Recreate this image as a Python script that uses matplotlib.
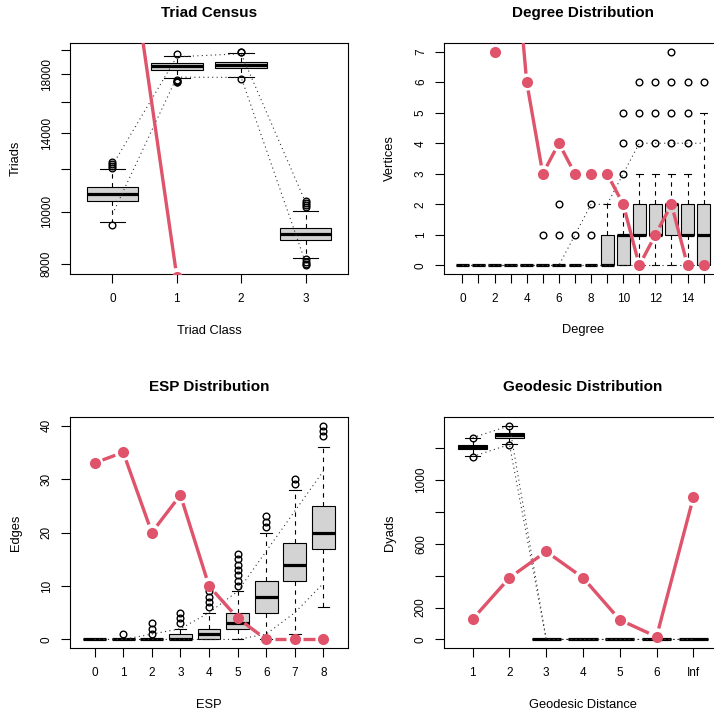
import numpy as np
import matplotlib
matplotlib.use('Agg')
import matplotlib.pyplot as plt
from matplotlib.ticker import NullLocator

plt.rcParams['font.family'] = ['Liberation Sans', 'DejaVu Sans']

W, H = 714, 712
RED = '#DF536B'
FILL = '#D3D3D3'

# ---- Triad census (simulated boxes, bounds, observed) ----
triad_names = ['0', '1', '2', '3']
triad_q1 = [10480, 18330, 18456, 8868]
triad_med = [10800, 18614, 18725, 9113]
triad_q3 = [11100, 18890, 18967, 9346]
triad_lo = [9586, 17690, 17767, 8217]
triad_hi = [12016, 19454, 19700, 10044]
triad_fliers = [[12080, 12180, 12280, 12390, 9466],
                [19670, 17600, 17520, 17450, 17380],
                [19836, 19800, 17670],
                [10200, 10290, 10380, 10470, 8170, 8080, 8000, 7950]]
triad_upper = [12200, 19400, 19650, 10420]
triad_lower = [9900, 17780, 17760, 8050]
triad_obs = [50960, 7580, 1800, 120]

# ---- Degree distribution ----
deg_names = [str(i) for i in range(16)]
deg_q1 = [0, 0, 0, 0, 0, 0, 0, 0, 0, 0, 0, 1, 1, 1, 1, 0]
deg_med = [0, 0, 0, 0, 0, 0, 0, 0, 0, 0, 1, 1, 1, 2, 1, 1]
deg_q3 = [0, 0, 0, 0, 0, 0, 0, 0, 0, 1, 1, 2, 2, 2, 2, 2]
deg_lo = [0] * 16
deg_hi = [0, 0, 0, 0, 0, 0, 0, 0, 0, 2, 2, 3, 3, 3, 3, 5]
deg_fliers = [[], [], [], [], [], [1], [1, 2], [1], [1, 2], [],
              [3, 4, 5], [4, 5, 6], [4, 5, 6], [4, 5, 6, 7], [4, 5, 6], [6]]
deg_upper = [0, 0, 0, 0, 0, 0, 0, 1, 2, 2, 3, 4, 4, 4, 4, 4]
deg_lower = [0] * 16
deg_obs = [13, 12, 7, 12, 6, 3, 4, 3, 3, 3, 2, 0, 1, 2, 0, 0]

# ---- ESP distribution ----
esp_names = [str(i) for i in range(9)]
esp_q1 = [0, 0, 0, 0, 0, 2, 5, 11, 17]
esp_med = [0, 0, 0, 0, 1, 3, 8, 14, 20]
esp_q3 = [0, 0, 0, 1, 2, 5, 11, 18, 25]
esp_lo = [0, 0, 0, 0, 0, 0, 0, 1, 6]
esp_hi = [0, 0, 0, 2, 5, 9, 20, 28, 36]
esp_fliers = [[], [1], [1, 2, 3], [3, 4, 5], [6, 7, 8, 9],
              [10, 11, 12, 13, 14, 15, 16], [21, 22, 23], [29, 30], [38, 39, 40]]
esp_upper = [0, 0, 1, 2, 5, 9, 16.5, 24, 31.5]
esp_lower = [0, 0, 0, 0, 0, 0, 1, 5, 10.5]
esp_obs = [33, 35, 20, 27, 10, 4, 0, 0, 0]

# ---- Geodesic distribution ----
geo_names = ['1', '2', '3', '4', '5', '6', 'Inf']
geo_q1 = [1195, 1266, 0, 0, 0, 0, 0]
geo_med = [1209, 1280, 0, 0, 0, 0, 0]
geo_q3 = [1222, 1294, 0, 0, 0, 0, 0]
geo_lo = [1152, 1226, 0, 0, 0, 0, 0]
geo_hi = [1264, 1338, 0, 0, 0, 0, 0]
geo_fliers = [[1147, 1267], [1222, 1342], [], [], [], [], []]
geo_upper = [1266, 1341, 0, 0, 0, 0, 0]
geo_lower = [1148, 1223, 0, 0, 0, 0, 0]
geo_obs = [128, 387, 552, 387, 123, 17, 891]


def px_axes(fig, left, top, right, bottom):
    return fig.add_axes([left / W, 1 - bottom / H, (right - left) / W, (bottom - top) / H])


def draw_panel(ax, pos, q1, med, q3, lo, hi, fl, upper, lower, obs, log=False):
    stats = [dict(q1=a, med=b, q3=c, whislo=d, whishi=e, fliers=f)
             for a, b, c, d, e, f in zip(q1, med, q3, lo, hi, fl)]
    ax.bxp(stats, positions=pos, widths=0.8, capwidths=0.4, patch_artist=True,
           manage_ticks=False,
           boxprops=dict(facecolor=FILL, edgecolor='black', linewidth=0.8),
           medianprops=dict(color='black', linewidth=2.3, solid_capstyle='butt'),
           whiskerprops=dict(color='black', linewidth=0.8, linestyle=(0, (4, 4))),
           capprops=dict(color='black', linewidth=0.8),
           flierprops=dict(marker='o', markersize=4.8, markerfacecolor='none',
                           markeredgecolor='black', markeredgewidth=1.0))
    n = len(pos)
    ax.set_xlim(pos[0] - 0.5 - 0.04 * n, pos[-1] + 0.5 + 0.04 * n)
    allv = np.concatenate([lo, hi, upper, lower] + [np.array(f, float) for f in fl])
    vmin, vmax = allv.min(), allv.max()
    if log:
        ax.set_yscale('log')
        r = np.log(vmax / vmin) * 0.04
        ax.set_ylim(vmin * np.exp(-r), vmax * np.exp(r))
        ax.yaxis.set_minor_locator(NullLocator())
    else:
        r = (vmax - vmin) * 0.04
        ax.set_ylim(vmin - r, vmax + r)
    for b in (upper, lower):
        ax.plot(pos, b, color='#333333', lw=0.8, ls=(0, (1, 3)), zorder=3)
    # observed: points joined by lines with gaps (R type="b")
    gap = 8.5
    pts = ax.transData.transform(np.column_stack([pos, obs]))
    inv = ax.transData.inverted()
    for p0, p1 in zip(pts[:-1], pts[1:]):
        d = p1 - p0
        L = np.hypot(d[0], d[1])
        if L <= 2 * gap:
            continue
        u = d / L
        seg = inv.transform(np.array([p0 + u * gap, p1 - u * gap]))
        ax.plot(seg[:, 0], seg[:, 1], color=RED, lw=2.4, solid_capstyle='butt', zorder=4)
    ax.plot(pos, obs, 'o', color=RED, ms=8, mec='none', zorder=5)
    for s in ax.spines.values():
        s.set_linewidth(0.8)
    ax.tick_params(direction='out', length=6.3, width=0.8, labelsize=8.5, pad=7.5)
    ax.tick_params(axis='y', labelrotation=90, pad=6)


def center_ylabels(ax):
    for lab in ax.get_yticklabels():
        lab.set_va('center')


fig = plt.figure(figsize=(W / 100, H / 100), dpi=100)

# Triad census
ax1 = px_axes(fig, 70, 43, 348, 274)
p1 = list(range(len(triad_names)))
draw_panel(ax1, p1, triad_q1, triad_med, triad_q3, triad_lo, triad_hi,
           triad_fliers, triad_upper, triad_lower, triad_obs, log=True)
ax1.set_xticks(p1, triad_names)
yt = [8000, 10000, 12000, 14000, 16000, 18000, 20000]
ax1.set_yticks(yt, ['8000', '10000', '', '14000', '', '18000', ''])
center_ylabels(ax1)

# Degree distribution
ax2 = px_axes(fig, 444, 43, 722, 274)
p2 = list(range(len(deg_names)))
draw_panel(ax2, p2, deg_q1, deg_med, deg_q3, deg_lo, deg_hi,
           deg_fliers, deg_upper, deg_lower, deg_obs)
ax2.set_xticks(p2, [nm if i % 2 == 0 else '' for i, nm in enumerate(deg_names)])
ax2.set_yticks(range(8))
center_ylabels(ax2)

# ESP distribution
ax3 = px_axes(fig, 70, 417, 348, 648)
p3 = list(range(len(esp_names)))
draw_panel(ax3, p3, esp_q1, esp_med, esp_q3, esp_lo, esp_hi,
           esp_fliers, esp_upper, esp_lower, esp_obs)
ax3.set_xticks(p3, esp_names)
ax3.set_yticks([0, 10, 20, 30, 40])
center_ylabels(ax3)

# Geodesic distribution
ax4 = px_axes(fig, 444, 417, 722, 648)
p4 = list(range(1, len(geo_names) + 1))
draw_panel(ax4, p4, geo_q1, geo_med, geo_q3, geo_lo, geo_hi,
           geo_fliers, geo_upper, geo_lower, geo_obs)
ax4.set_xticks(p4, geo_names)
ax4.set_yticks([0, 200, 400, 600, 800, 1000, 1200],
               ['0', '200', '', '600', '', '1000', ''])
center_ylabels(ax4)

# titles and axis labels
panels = [
    ('Triad Census', 'Triad Class', 'Triads', 209, 16, 43, 274),
    ('Degree Distribution', 'Degree', 'Vertices', 583, 390, 43, 274),
    ('ESP Distribution', 'ESP', 'Edges', 209, 16, 417, 648),
    ('Geodesic Distribution', 'Geodesic Distance', 'Dyads', 583, 390, 417, 648),
]
for title, xl, yl, cx, ylx, top, bot in panels:
    fig.text(cx / W, 1 - (top - 26.3) / H, title, ha='center', va='baseline',
             fontsize=11, fontweight='bold')
    fig.text(cx / W, 1 - (bot + 59.5) / H, xl, ha='center', va='baseline', fontsize=9.3)
    fig.text(ylx / W, 1 - ((top + bot) / 2) / H, yl, ha='center', va='center',
             rotation=90, fontsize=9.3)

fig.savefig('out.png', dpi=100)
